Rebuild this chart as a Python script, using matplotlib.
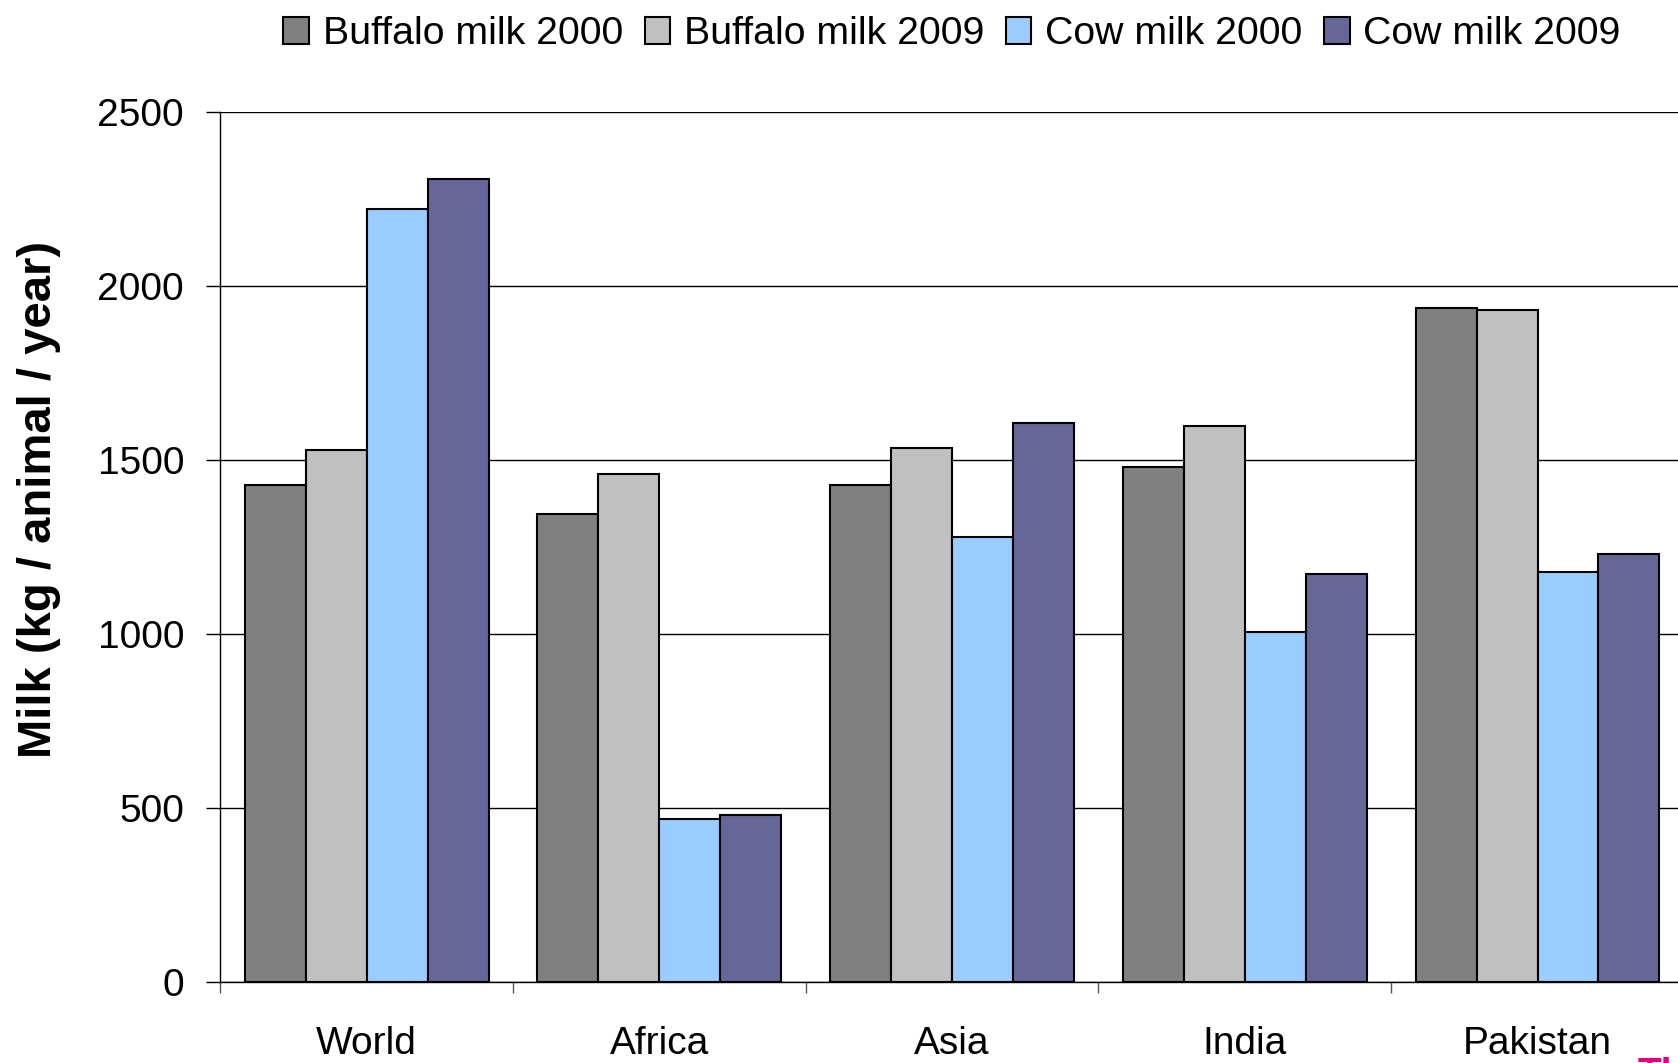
import matplotlib.pyplot as plt
import numpy as np

plt.rcParams['font.family'] = ['Liberation Sans', 'DejaVu Sans']

regions = ['World', 'Africa', 'Asia', 'India', 'Pakistan']
series = ['Buffalo milk 2000', 'Buffalo milk 2009', 'Cow milk 2000', 'Cow milk 2009']
buffalo_2000 = [1427, 1344, 1427, 1479, 1937]
buffalo_2009 = [1528, 1461, 1534, 1599, 1931]
cow_2000 = [2220, 467, 1279, 1005, 1178]
cow_2009 = [2309, 480, 1605, 1172, 1230]
colors = ['#808080', '#C0C0C0', '#99CCFF', '#666699']

values = [buffalo_2000, buffalo_2009, cow_2000, cow_2009]

fig = plt.figure(figsize=(16.78, 10.63), dpi=100)
ax = fig.add_axes([0.1312, 0.0762, 0.8723, 0.8184])

x = np.arange(len(regions))
w = 1 / 4.8
for i, (vals, name, c) in enumerate(zip(values, series, colors)):
    ax.bar(x + (i - 1.5) * w, vals, width=w, color=c, edgecolor='black',
           linewidth=1.5, label=name, zorder=3)

ax.set_xlim(-0.5, len(regions) - 0.5)
ax.set_ylim(0, 2500)
ax.set_yticks(np.arange(0, 2501, 500))
ax.grid(axis='y', color='black', linewidth=1, zorder=0)

# boundaries get the tick marks, centers get the labels
ax.set_xticks(np.arange(len(regions) + 1) - 0.5)
ax.set_xticklabels([])
ax.set_xticks(x, minor=True)
ax.set_xticklabels(regions, minor=True, fontsize=28)
ax.tick_params(axis='x', which='major', length=8, width=1, direction='out', color='#555555')
ax.tick_params(axis='x', which='minor', length=0, pad=32)
ax.tick_params(axis='y', length=10, width=1, direction='out', pad=16, labelsize=28)

for s in ['top', 'right']:
    ax.spines[s].set_visible(False)
ax.spines['left'].set_linewidth(1)
ax.spines['bottom'].set_linewidth(1)

fig.text(39.5 / 1678, 1 - 499 / 1063, 'Milk (kg / animal / year)', rotation=90,
         ha='center', va='center', fontsize=34, fontweight='bold')

ax.legend(loc='upper center', bbox_to_anchor=(0.5, 1.128), ncol=4, frameon=False,
          fontsize=28.3, handlelength=0.65, handleheight=0.65, handletextpad=0.35,
          columnspacing=0.55, borderaxespad=0)

fig.text(0.976, 0.0056, 'Tl', color='#E4007C', fontsize=28, fontweight='bold', va='top')

fig.savefig('out.png', dpi=100)
